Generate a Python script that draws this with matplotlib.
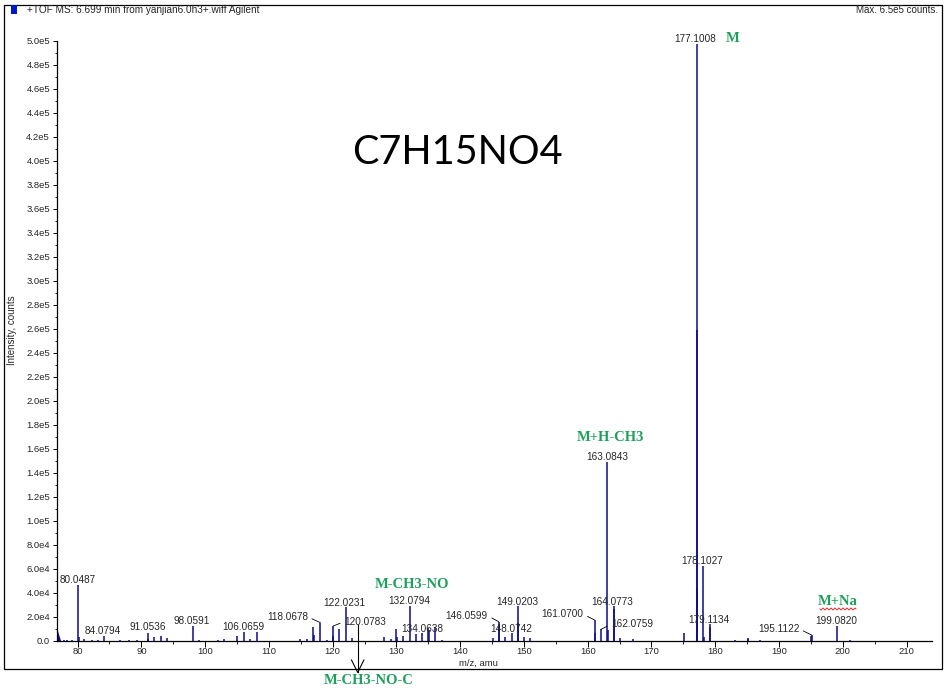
import numpy as np
import matplotlib
matplotlib.use("Agg")
import matplotlib.pyplot as plt
from matplotlib.lines import Line2D
from matplotlib.patches import Rectangle

# ---------------- data ----------------
peak_mz = [77.9, 78.3, 79.1, 80.0487, 80.15, 81.05, 82.2, 83.2, 84.0794, 86.6, 88.0, 89.3,
           91.0536, 91.12, 92.03, 93.03, 94.07, 98.0591, 99.0, 102.07, 103.0,
           105.05, 106.0659, 107.04, 108.09, 114.9, 115.9, 116.97, 117.03, 118.0678,
           119.07, 120.0783, 120.03, 121.05, 122.0231, 123.0,
           128.1, 129.15, 129.98, 130.05, 131.08, 132.0794, 133.07, 134.0638, 135.0, 135.05,
           136.05, 137.1, 145.1, 146.0599, 146.1, 147.03, 148.0742, 149.0203, 149.08,
           150.06, 150.95, 161.0700, 161.12, 162.0759, 163.0843, 163.15, 164.0773, 164.12,
           165.07, 167.06, 175.15, 177.1008, 177.13, 177.2, 178.1027, 178.3,
           179.1134, 179.15, 183.1, 185.1, 185.14, 187.0, 195.08, 195.1122, 199.0820, 201.1]
peak_int = [1200, 1000, 900, 46600, 3600, 1400, 800, 900, 4400, 900, 800, 700,
            6900, 2000, 3600, 4400, 2200, 12500, 800, 1200, 1500,
            4400, 7800, 1500, 7800, 1500, 2000, 11400, 5000, 15300,
            1000, 12500, 4000, 9700, 28600, 2200,
            3600, 1500, 9700, 3600, 4200, 29400, 5600, 6900, 10600, 9000,
            11400, 800, 2200, 16000, 14000, 3600, 6400, 29400, 15000,
            3000, 2200, 17500, 7000, 9700, 149200, 9200, 29000, 27000,
            2800, 1500, 6400, 497700, 259000, 44000, 62700, 3600,
            13900, 12000, 1200, 2500, 2000, 700, 4000, 5000, 12500, 800]

left_peak_mz = [76.6, 76.85, 77.35]
left_peak_int = [9500, 8500, 0]

label_mz = [80.0487, 84.0794, 91.0536, 98.0591, 106.0659, 118.0678, 120.0783, 122.0231,
            132.0794, 134.0638, 146.0599, 148.0742, 149.0203, 161.0700, 162.0759,
            163.0843, 164.0773, 177.1008, 178.1027, 179.1134, 195.1122, 199.0820]
label_int = [46600, 4400, 6900, 12500, 7800, 15300, 12500, 28600,
             29400, 6900, 16000, 6400, 29400, 17500, 9700,
             149200, 29000, 497700, 62700, 13900, 5000, 12500]
label_text = ["80.0487", "84.0794", "91.0536", "98.0591", "106.0659", "118.0678", "120.0783",
              "122.0231", "132.0794", "134.0638", "146.0599", "148.0742", "149.0203",
              "161.0700", "162.0759", "163.0843", "164.0773", "177.1008", "178.1027",
              "179.1134", "195.1122", "199.0820"]

xtick_vals = [80, 90, 100, 110, 120, 130, 140, 150, 160, 170, 180, 190, 200, 210]
xtick_labels = ["80", "90", "100", "110", "120", "130", "140", "150", "160", "170",
                "180", "190", "200", "210"]
ytick_vals = [0, 20000, 40000, 60000, 80000, 100000, 120000, 140000, 160000, 180000,
              200000, 220000, 240000, 260000, 280000, 300000, 320000, 340000, 360000,
              380000, 400000, 420000, 440000, 460000, 480000, 500000]
ytick_labels = ["0.0", "2.0e4", "4.0e4", "6.0e4", "8.0e4", "1.0e5", "1.2e5", "1.4e5", "1.6e5",
                "1.8e5", "2.0e5", "2.2e5", "2.4e5", "2.6e5", "2.8e5", "3.0e5", "3.2e5", "3.4e5",
                "3.6e5", "3.8e5", "4.0e5", "4.2e5", "4.4e5", "4.6e5", "4.8e5", "5.0e5"]

ion_labels = ["M", "M+H-CH3", "M-CH3-NO", "M+Na", "M-CH3-NO-C"]

# ---------------- styles / layout ----------------
W, H = 952, 694
def fx(x):
    return x / W
def fy(y):
    return 1 - y / H

label_off = [(0, 5), (-1, 5), (0, 5.4), (-1, 5), (0, 5), (-33, 5.7), (32, 4.3), (-1, 4),
             (0, 4.7), (-0.5, 3.7), (-32, 6), (0, 4), (-0.5, 3.4), (-32, 5.7), (31, 5),
             (-0.5, 5), (-1, 4.3), (-1.2, 4.7), (-1, 4.7), (-0.5, 4), (-33, 6), (-1, 5)]

peak_color = "#0c0c8c"
green = "#1f9f5c"
txt_color = "#262626"
num_font = "Liberation Sans"
num_size = 7.2
tick_size = 6.8

fig = plt.figure(figsize=(W / 100, H / 100), dpi=100)
ax = fig.add_axes([fx(57), fy(641), fx(931.7) - fx(57), fy(40.9) - fy(641)])

ax.vlines(peak_mz, 0, peak_int, color=peak_color, linewidth=1.1)
ax.fill_between(left_peak_mz, 0, left_peak_int, color=peak_color, linewidth=0)

ax.set_xlim(76.77, 213.95)
ax.set_ylim(0, 500000)

ax.set_xticks(xtick_vals)
ax.set_xticklabels(xtick_labels)
ax.set_xticks(np.arange(80, 214, 5), minor=True)
ax.set_yticks(ytick_vals)
ax.set_yticklabels(ytick_labels)
ax.set_yticks(np.arange(0, 500001, 10000), minor=True)

for s in ["top", "right"]:
    ax.spines[s].set_visible(False)
for s in ["left", "bottom"]:
    ax.spines[s].set_linewidth(0.9)
    ax.spines[s].set_color("black")

ax.tick_params(axis="x", which="major", direction="out", length=4, width=0.7, pad=0.6,
               labelsize=tick_size, labelcolor=txt_color)
ax.tick_params(axis="x", which="minor", direction="out", length=2, width=0.6)
ax.tick_params(axis="y", which="major", direction="out", length=3, width=0.7, pad=2.0,
               labelsize=tick_size, labelcolor=txt_color)
ax.tick_params(axis="y", which="minor", direction="out", length=1.5, width=0.6)
for lab in ax.get_xticklabels() + ax.get_yticklabels():
    lab.set_fontfamily(num_font)

# peak labels
for mz, inten, t, (dx, dy) in zip(label_mz, label_int, label_text, label_off):
    if abs(dx) > 10:
        rel = (1, 0.5) if dx < 0 else (0, 0.5)
        ax.annotate(t, xy=(mz, inten), xytext=(dx, dy), textcoords="offset pixels",
                    ha="center", va="center", fontsize=num_size, family=num_font,
                    color=txt_color,
                    arrowprops=dict(arrowstyle="-", lw=0.6, color="black", shrinkA=1,
                                    shrinkB=0, relpos=rel))
    else:
        ax.annotate(t, xy=(mz, inten), xytext=(dx, dy), textcoords="offset pixels",
                    ha="center", va="center", fontsize=num_size, family=num_font,
                    color=txt_color)

# outer frame
fig.add_artist(Rectangle((fx(4), fy(669)), fx(942) - fx(4), fy(5) - fy(669),
                         transform=fig.transFigure, fill=False, edgecolor="black", lw=0.9))

# header
fig.add_artist(Rectangle((fx(11), fy(14)), fx(6), fy(5) - fy(14), transform=fig.transFigure,
                         facecolor="#0018c8", edgecolor="none"))
fig.text(fx(27), fy(10), "+TOF MS: 6.699 min from yanjian6.0h3+.wiff Agilent",
         fontsize=7.2, family=num_font, color=txt_color, ha="left", va="center")
fig.text(fx(938), fy(10), "Max. 6.5e5 counts.", fontsize=7.0, family=num_font,
         color=txt_color, ha="right", va="center")

fig.text(fx(12), fy(330), "Intensity, counts", rotation=90, fontsize=7.0, family=num_font,
         color=txt_color, ha="center", va="center")
fig.text(fx(478), fy(663.5), "m/z, amu", fontsize=6.8, family=num_font, color=txt_color,
         ha="center", va="center")

# formula
fig.text(fx(457), fy(152), "C7H15NO4", fontsize=28.5, family="Lato", color="black",
         ha="center", va="center")

# ion annotations
gfont = dict(family="Liberation Serif", weight="bold", color=green, fontsize=10.5,
             ha="center", va="center")
ion_pos = [(733, 38), (610.5, 437), (411.7, 585), (838, 601.5), (369, 681)]
for t, (x, y) in zip(ion_labels, ion_pos):
    fig.text(fx(x), fy(y), t, **gfont)

# red wavy underline under M+Na
wx = np.arange(820, 856.5, 1.0)
wy = 609 + 1.0 * np.sin((wx - 820) * np.pi / 2)
fig.add_artist(Line2D(fx(wx), fy(wy), transform=fig.transFigure, color="#e03030", lw=0.7))

# arrow to M-CH3-NO-C
fig.add_artist(Line2D([fx(357.7), fx(357.7)], [fy(625), fy(672)], transform=fig.transFigure,
                      color="black", lw=0.8))
fig.add_artist(Line2D([fx(351.5), fx(357.7), fx(363.9)], [fy(660), fy(672.5), fy(660)],
                      transform=fig.transFigure, color="black", lw=0.8))

fig.savefig("out.png", dpi=100, facecolor="white")
